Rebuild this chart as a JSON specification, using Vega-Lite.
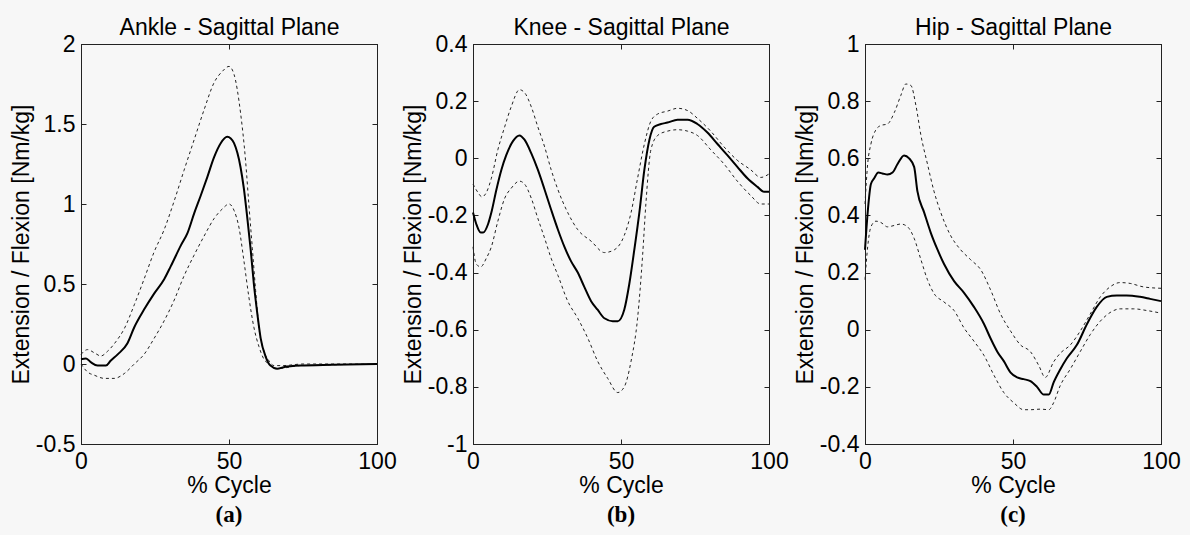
{
  "$schema": "https://vega.github.io/schema/vega-lite/v6.json",
  "background": "#f7f7f7",
  "autosize": {"type": "none"},
  "padding": {"left": 81, "top": 44, "right": 1109, "bottom": 491},
  "bounds": "flush",
  "spacing": 96,
  "datasets": {
    "ankle": [
      {"s":"mean","x":0,"y":0.03},{"s":"mean","x":1.7,"y":0.035},{"s":"mean","x":3.4,"y":0.01},{"s":"mean","x":5.6,"y":-0.01},{"s":"mean","x":8.4,"y":-0.01},{"s":"mean","x":10,"y":0.02},{"s":"mean","x":12.4,"y":0.06},{"s":"mean","x":15.7,"y":0.13},{"s":"mean","x":18,"y":0.23},{"s":"mean","x":21.3,"y":0.34},{"s":"mean","x":24.7,"y":0.44},{"s":"mean","x":28.1,"y":0.53},{"s":"mean","x":30.3,"y":0.61},{"s":"mean","x":33.7,"y":0.74},{"s":"mean","x":36,"y":0.82},{"s":"mean","x":38.2,"y":0.94},{"s":"mean","x":40.4,"y":1.05},{"s":"mean","x":42.7,"y":1.17},{"s":"mean","x":44.9,"y":1.29},{"s":"mean","x":47.2,"y":1.38},{"s":"mean","x":49.4,"y":1.42},{"s":"mean","x":50.6,"y":1.41},{"s":"mean","x":51.7,"y":1.38},{"s":"mean","x":53.9,"y":1.23},{"s":"mean","x":55,"y":1.1},{"s":"mean","x":56.2,"y":0.91},{"s":"mean","x":57.3,"y":0.72},{"s":"mean","x":58.4,"y":0.5},{"s":"mean","x":59.6,"y":0.31},{"s":"mean","x":60.7,"y":0.16},{"s":"mean","x":62.4,"y":0.045},{"s":"mean","x":64,"y":-0.01},{"s":"mean","x":66.3,"y":-0.03},{"s":"mean","x":68.5,"y":-0.02},{"s":"mean","x":74,"y":-0.01},{"s":"mean","x":85,"y":-0.005},{"s":"mean","x":100,"y":0},
      {"s":"upper","x":0,"y":0.06},{"s":"upper","x":2.2,"y":0.09},{"s":"upper","x":4.5,"y":0.07},{"s":"upper","x":6.7,"y":0.05},{"s":"upper","x":9,"y":0.08},{"s":"upper","x":11.8,"y":0.14},{"s":"upper","x":14.6,"y":0.22},{"s":"upper","x":18,"y":0.37},{"s":"upper","x":21.3,"y":0.53},{"s":"upper","x":24.7,"y":0.7},{"s":"upper","x":28.1,"y":0.84},{"s":"upper","x":31.5,"y":1.02},{"s":"upper","x":34.8,"y":1.21},{"s":"upper","x":38.2,"y":1.4},{"s":"upper","x":41.6,"y":1.59},{"s":"upper","x":45,"y":1.76},{"s":"upper","x":47.8,"y":1.83},{"s":"upper","x":50,"y":1.86},{"s":"upper","x":51.7,"y":1.81},{"s":"upper","x":53.9,"y":1.57},{"s":"upper","x":55.6,"y":1.27},{"s":"upper","x":56.7,"y":1.0},{"s":"upper","x":57.9,"y":0.72},{"s":"upper","x":59,"y":0.46},{"s":"upper","x":60.1,"y":0.23},{"s":"upper","x":61.8,"y":0.08},{"s":"upper","x":63.5,"y":0.02},{"s":"upper","x":65.2,"y":-0.01},{"s":"upper","x":68,"y":-0.01},{"s":"upper","x":75,"y":0},{"s":"upper","x":85,"y":0},{"s":"upper","x":100,"y":0},
      {"s":"lower","x":0,"y":0},{"s":"lower","x":2.2,"y":-0.05},{"s":"lower","x":4.5,"y":-0.07},{"s":"lower","x":7.9,"y":-0.09},{"s":"lower","x":11.2,"y":-0.09},{"s":"lower","x":14.6,"y":-0.06},{"s":"lower","x":18,"y":0},{"s":"lower","x":21.3,"y":0.06},{"s":"lower","x":24.7,"y":0.16},{"s":"lower","x":28.1,"y":0.27},{"s":"lower","x":31.5,"y":0.4},{"s":"lower","x":34.8,"y":0.55},{"s":"lower","x":38.2,"y":0.68},{"s":"lower","x":41.6,"y":0.8},{"s":"lower","x":45,"y":0.91},{"s":"lower","x":47.8,"y":0.97},{"s":"lower","x":50,"y":1.0},{"s":"lower","x":51.7,"y":0.96},{"s":"lower","x":53.4,"y":0.85},{"s":"lower","x":55,"y":0.65},{"s":"lower","x":56.7,"y":0.42},{"s":"lower","x":58.4,"y":0.23},{"s":"lower","x":60.1,"y":0.11},{"s":"lower","x":61.8,"y":0.03},{"s":"lower","x":63.5,"y":0},{"s":"lower","x":65.7,"y":-0.03},{"s":"lower","x":68.5,"y":-0.025},{"s":"lower","x":74,"y":-0.01},{"s":"lower","x":85,"y":-0.005},{"s":"lower","x":100,"y":0}
    ],
    "knee": [
      {"s":"mean","x":0,"y":-0.19},{"s":"mean","x":1.1,"y":-0.23},{"s":"mean","x":2.6,"y":-0.26},{"s":"mean","x":3.4,"y":-0.26},{"s":"mean","x":5.1,"y":-0.23},{"s":"mean","x":6.2,"y":-0.19},{"s":"mean","x":7.9,"y":-0.11},{"s":"mean","x":9.6,"y":-0.04},{"s":"mean","x":11.2,"y":0.01},{"s":"mean","x":13.5,"y":0.06},{"s":"mean","x":15.7,"y":0.08},{"s":"mean","x":17.4,"y":0.065},{"s":"mean","x":19.7,"y":0.017},{"s":"mean","x":21.9,"y":-0.04},{"s":"mean","x":24.2,"y":-0.11},{"s":"mean","x":26.4,"y":-0.18},{"s":"mean","x":28.7,"y":-0.25},{"s":"mean","x":30.9,"y":-0.31},{"s":"mean","x":33.1,"y":-0.36},{"s":"mean","x":35.4,"y":-0.4},{"s":"mean","x":37.6,"y":-0.45},{"s":"mean","x":39.9,"y":-0.5},{"s":"mean","x":42.1,"y":-0.53},{"s":"mean","x":44.4,"y":-0.56},{"s":"mean","x":47.2,"y":-0.57},{"s":"mean","x":48.9,"y":-0.57},{"s":"mean","x":51.1,"y":-0.53},{"s":"mean","x":52.8,"y":-0.44},{"s":"mean","x":54.5,"y":-0.32},{"s":"mean","x":56.2,"y":-0.19},{"s":"mean","x":57.9,"y":-0.04},{"s":"mean","x":59.6,"y":0.065},{"s":"mean","x":61.2,"y":0.11},{"s":"mean","x":63.5,"y":0.12},{"s":"mean","x":65.7,"y":0.125},{"s":"mean","x":69.1,"y":0.135},{"s":"mean","x":72.5,"y":0.135},{"s":"mean","x":75.8,"y":0.12},{"s":"mean","x":79.2,"y":0.09},{"s":"mean","x":82.6,"y":0.05},{"s":"mean","x":86,"y":0.01},{"s":"mean","x":89.3,"y":-0.03},{"s":"mean","x":92.7,"y":-0.07},{"s":"mean","x":96.1,"y":-0.1},{"s":"mean","x":98.3,"y":-0.117},{"s":"mean","x":100,"y":-0.117},
      {"s":"upper","x":0,"y":-0.09},{"s":"upper","x":1.7,"y":-0.12},{"s":"upper","x":3,"y":-0.135},{"s":"upper","x":4.5,"y":-0.12},{"s":"upper","x":6.2,"y":-0.07},{"s":"upper","x":8.4,"y":0.03},{"s":"upper","x":10.7,"y":0.11},{"s":"upper","x":12.9,"y":0.18},{"s":"upper","x":15.7,"y":0.24},{"s":"upper","x":17.4,"y":0.23},{"s":"upper","x":19.7,"y":0.18},{"s":"upper","x":21.9,"y":0.11},{"s":"upper","x":24.2,"y":0.04},{"s":"upper","x":26.4,"y":-0.04},{"s":"upper","x":28.7,"y":-0.11},{"s":"upper","x":32,"y":-0.19},{"s":"upper","x":35.4,"y":-0.25},{"s":"upper","x":39.9,"y":-0.29},{"s":"upper","x":44.4,"y":-0.33},{"s":"upper","x":47.8,"y":-0.32},{"s":"upper","x":51.1,"y":-0.27},{"s":"upper","x":53.4,"y":-0.19},{"s":"upper","x":55.6,"y":-0.07},{"s":"upper","x":57.9,"y":0.05},{"s":"upper","x":60.1,"y":0.13},{"s":"upper","x":62.4,"y":0.155},{"s":"upper","x":65.7,"y":0.165},{"s":"upper","x":69.1,"y":0.175},{"s":"upper","x":72.5,"y":0.167},{"s":"upper","x":75.8,"y":0.14},{"s":"upper","x":80.3,"y":0.095},{"s":"upper","x":84.8,"y":0.04},{"s":"upper","x":89.3,"y":-0.007},{"s":"upper","x":93.8,"y":-0.04},{"s":"upper","x":97.2,"y":-0.067},{"s":"upper","x":100,"y":-0.055},
      {"s":"lower","x":0,"y":-0.31},{"s":"lower","x":1.1,"y":-0.37},{"s":"lower","x":2.6,"y":-0.38},{"s":"lower","x":4.5,"y":-0.35},{"s":"lower","x":6.2,"y":-0.31},{"s":"lower","x":8.4,"y":-0.22},{"s":"lower","x":10.7,"y":-0.14},{"s":"lower","x":12.9,"y":-0.105},{"s":"lower","x":15.7,"y":-0.08},{"s":"lower","x":17.4,"y":-0.09},{"s":"lower","x":19.7,"y":-0.14},{"s":"lower","x":21.9,"y":-0.21},{"s":"lower","x":24.2,"y":-0.28},{"s":"lower","x":26.4,"y":-0.35},{"s":"lower","x":28.7,"y":-0.41},{"s":"lower","x":32,"y":-0.5},{"s":"lower","x":35.4,"y":-0.56},{"s":"lower","x":38.8,"y":-0.63},{"s":"lower","x":42.1,"y":-0.71},{"s":"lower","x":45.5,"y":-0.77},{"s":"lower","x":48.9,"y":-0.82},{"s":"lower","x":51.1,"y":-0.8},{"s":"lower","x":53.4,"y":-0.71},{"s":"lower","x":55.6,"y":-0.56},{"s":"lower","x":57.3,"y":-0.34},{"s":"lower","x":58.4,"y":-0.16},{"s":"lower","x":60.1,"y":0.03},{"s":"lower","x":62.4,"y":0.08},{"s":"lower","x":65.7,"y":0.095},{"s":"lower","x":69.1,"y":0.1},{"s":"lower","x":72.5,"y":0.095},{"s":"lower","x":75.8,"y":0.08},{"s":"lower","x":80.3,"y":0.03},{"s":"lower","x":84.8,"y":-0.02},{"s":"lower","x":89.3,"y":-0.08},{"s":"lower","x":93.8,"y":-0.13},{"s":"lower","x":97.2,"y":-0.16},{"s":"lower","x":100,"y":-0.16}
    ],
    "hip": [
      {"s":"mean","x":0,"y":0.28},{"s":"mean","x":0.9,"y":0.41},{"s":"mean","x":2,"y":0.51},{"s":"mean","x":3.1,"y":0.53},{"s":"mean","x":4.5,"y":0.55},{"s":"mean","x":5.9,"y":0.547},{"s":"mean","x":7.6,"y":0.543},{"s":"mean","x":9.3,"y":0.55},{"s":"mean","x":11,"y":0.58},{"s":"mean","x":13.2,"y":0.61},{"s":"mean","x":14.9,"y":0.6},{"s":"mean","x":16.6,"y":0.57},{"s":"mean","x":17.7,"y":0.485},{"s":"mean","x":20,"y":0.41},{"s":"mean","x":22.2,"y":0.34},{"s":"mean","x":24.5,"y":0.28},{"s":"mean","x":26.7,"y":0.23},{"s":"mean","x":30.1,"y":0.17},{"s":"mean","x":33.4,"y":0.13},{"s":"mean","x":36.8,"y":0.08},{"s":"mean","x":40.2,"y":0.02},{"s":"mean","x":42.4,"y":-0.03},{"s":"mean","x":44.7,"y":-0.077},{"s":"mean","x":46.9,"y":-0.11},{"s":"mean","x":49.2,"y":-0.15},{"s":"mean","x":51.4,"y":-0.167},{"s":"mean","x":53.6,"y":-0.173},{"s":"mean","x":55.9,"y":-0.18},{"s":"mean","x":58.1,"y":-0.2},{"s":"mean","x":60.4,"y":-0.227},{"s":"mean","x":62.1,"y":-0.227},{"s":"mean","x":63.7,"y":-0.185},{"s":"mean","x":65.9,"y":-0.14},{"s":"mean","x":68.2,"y":-0.1},{"s":"mean","x":71.6,"y":-0.053},{"s":"mean","x":75,"y":0.02},{"s":"mean","x":78.3,"y":0.08},{"s":"mean","x":81.7,"y":0.115},{"s":"mean","x":85.1,"y":0.12},{"s":"mean","x":88.4,"y":0.12},{"s":"mean","x":92.9,"y":0.115},{"s":"mean","x":96.3,"y":0.108},{"s":"mean","x":100,"y":0.1},
      {"s":"upper","x":0,"y":0.44},{"s":"upper","x":0.9,"y":0.58},{"s":"upper","x":2,"y":0.65},{"s":"upper","x":3.7,"y":0.7},{"s":"upper","x":5.4,"y":0.715},{"s":"upper","x":7.6,"y":0.72},{"s":"upper","x":9.9,"y":0.76},{"s":"upper","x":12.1,"y":0.82},{"s":"upper","x":13.8,"y":0.86},{"s":"upper","x":15.5,"y":0.855},{"s":"upper","x":17.2,"y":0.785},{"s":"upper","x":18.9,"y":0.68},{"s":"upper","x":21.1,"y":0.58},{"s":"upper","x":23.3,"y":0.485},{"s":"upper","x":25.6,"y":0.41},{"s":"upper","x":28.9,"y":0.33},{"s":"upper","x":32.3,"y":0.28},{"s":"upper","x":35.7,"y":0.245},{"s":"upper","x":39.1,"y":0.21},{"s":"upper","x":42.4,"y":0.14},{"s":"upper","x":45.8,"y":0.055},{"s":"upper","x":49.2,"y":-0.005},{"s":"upper","x":52.5,"y":-0.053},{"s":"upper","x":55.9,"y":-0.077},{"s":"upper","x":58.7,"y":-0.125},{"s":"upper","x":60.9,"y":-0.167},{"s":"upper","x":63.7,"y":-0.113},{"s":"upper","x":65.9,"y":-0.083},{"s":"upper","x":69.4,"y":-0.053},{"s":"upper","x":72.7,"y":-0.005},{"s":"upper","x":76.1,"y":0.055},{"s":"upper","x":79.5,"y":0.115},{"s":"upper","x":82.8,"y":0.15},{"s":"upper","x":86.2,"y":0.165},{"s":"upper","x":89.6,"y":0.162},{"s":"upper","x":94,"y":0.15},{"s":"upper","x":100,"y":0.145},
      {"s":"lower","x":0,"y":0.175},{"s":"lower","x":0.9,"y":0.29},{"s":"lower","x":2,"y":0.36},{"s":"lower","x":3.7,"y":0.38},{"s":"lower","x":5.4,"y":0.375},{"s":"lower","x":7.6,"y":0.36},{"s":"lower","x":9.9,"y":0.365},{"s":"lower","x":12.1,"y":0.37},{"s":"lower","x":14.4,"y":0.36},{"s":"lower","x":16.6,"y":0.32},{"s":"lower","x":18.9,"y":0.245},{"s":"lower","x":21.1,"y":0.175},{"s":"lower","x":23.3,"y":0.127},{"s":"lower","x":26.7,"y":0.097},{"s":"lower","x":30.1,"y":0.067},{"s":"lower","x":33.4,"y":0.007},{"s":"lower","x":36.8,"y":-0.04},{"s":"lower","x":40.2,"y":-0.09},{"s":"lower","x":43.6,"y":-0.16},{"s":"lower","x":46.9,"y":-0.22},{"s":"lower","x":50.3,"y":-0.256},{"s":"lower","x":53.6,"y":-0.28},{"s":"lower","x":55.9,"y":-0.28},{"s":"lower","x":59.3,"y":-0.278},{"s":"lower","x":62.1,"y":-0.28},{"s":"lower","x":63.7,"y":-0.256},{"s":"lower","x":65.9,"y":-0.197},{"s":"lower","x":69.4,"y":-0.137},{"s":"lower","x":72.7,"y":-0.077},{"s":"lower","x":76.1,"y":-0.017},{"s":"lower","x":79.5,"y":0.03},{"s":"lower","x":82.8,"y":0.06},{"s":"lower","x":86.2,"y":0.073},{"s":"lower","x":90.8,"y":0.073},{"s":"lower","x":95.3,"y":0.067},{"s":"lower","x":100,"y":0.058}
    ]
  },
  "hconcat": [
    {
      "width": 296, "height": 400,
      "data": {"name": "ankle"},
      "title": {"text": "(a)"},
      "layer": [
        {
          "transform": [{"filter": "datum.s != 'mean'"}],
          "mark": {"type": "line", "interpolate": "monotone", "strokeDash": [3, 3], "strokeWidth": 1, "color": "#222222"},
          "encoding": {
            "x": {"field": "x", "type": "quantitative", "scale": {"domain": [0, 100], "nice": false, "zero": false}, "axis": {"orient": "top", "values": [0, 50, 100], "labels": false, "title": "Ankle - Sagittal Plane"}},
            "y": {"field": "y", "type": "quantitative", "scale": {"domain": [-0.5, 2], "nice": false, "zero": false}, "axis": {"orient": "right", "values": [-0.5, 0, 0.5, 1, 1.5, 2], "labels": false, "title": null}},
            "detail": {"field": "s"}
          }
        },
        {
          "transform": [{"filter": "datum.s == 'mean'"}],
          "mark": {"type": "line", "interpolate": "monotone", "strokeWidth": 2, "color": "#000000"},
          "encoding": {
            "x": {"field": "x", "type": "quantitative", "scale": {"domain": [0, 100], "nice": false, "zero": false}, "axis": {"orient": "bottom", "values": [0, 50, 100], "format": "~r", "labelExpr": "replace(datum.label, '\u2212', '-')", "title": "% Cycle"}},
            "y": {"field": "y", "type": "quantitative", "scale": {"domain": [-0.5, 2], "nice": false, "zero": false}, "axis": {"orient": "left", "values": [-0.5, 0, 0.5, 1, 1.5, 2], "format": "~r", "labelExpr": "replace(datum.label, '\u2212', '-')", "title": "Extension / Flexion [Nm/kg]"}}
          }
        }
      ],
      "resolve": {"axis": {"x": "independent", "y": "independent"}}
    },
    {
      "width": 296, "height": 400,
      "data": {"name": "knee"},
      "title": {"text": "(b)"},
      "layer": [
        {
          "transform": [{"filter": "datum.s != 'mean'"}],
          "mark": {"type": "line", "interpolate": "monotone", "strokeDash": [3, 3], "strokeWidth": 1, "color": "#222222"},
          "encoding": {
            "x": {"field": "x", "type": "quantitative", "scale": {"domain": [0, 100], "nice": false, "zero": false}, "axis": {"orient": "top", "values": [0, 50, 100], "labels": false, "title": "Knee - Sagittal Plane"}},
            "y": {"field": "y", "type": "quantitative", "scale": {"domain": [-1, 0.4], "nice": false, "zero": false}, "axis": {"orient": "right", "values": [-1, -0.8, -0.6, -0.4, -0.2, 0, 0.2, 0.4], "labels": false, "title": null}},
            "detail": {"field": "s"}
          }
        },
        {
          "transform": [{"filter": "datum.s == 'mean'"}],
          "mark": {"type": "line", "interpolate": "monotone", "strokeWidth": 2, "color": "#000000"},
          "encoding": {
            "x": {"field": "x", "type": "quantitative", "scale": {"domain": [0, 100], "nice": false, "zero": false}, "axis": {"orient": "bottom", "values": [0, 50, 100], "format": "~r", "labelExpr": "replace(datum.label, '\u2212', '-')", "title": "% Cycle"}},
            "y": {"field": "y", "type": "quantitative", "scale": {"domain": [-1, 0.4], "nice": false, "zero": false}, "axis": {"orient": "left", "values": [-1, -0.8, -0.6, -0.4, -0.2, 0, 0.2, 0.4], "format": "~r", "labelExpr": "replace(datum.label, '\u2212', '-')", "title": "Extension / Flexion [Nm/kg]"}}
          }
        }
      ],
      "resolve": {"axis": {"x": "independent", "y": "independent"}}
    },
    {
      "width": 296, "height": 400,
      "data": {"name": "hip"},
      "title": {"text": "(c)"},
      "layer": [
        {
          "transform": [{"filter": "datum.s != 'mean'"}],
          "mark": {"type": "line", "interpolate": "monotone", "strokeDash": [3, 3], "strokeWidth": 1, "color": "#222222"},
          "encoding": {
            "x": {"field": "x", "type": "quantitative", "scale": {"domain": [0, 100], "nice": false, "zero": false}, "axis": {"orient": "top", "values": [0, 50, 100], "labels": false, "title": "Hip - Sagittal Plane"}},
            "y": {"field": "y", "type": "quantitative", "scale": {"domain": [-0.4, 1], "nice": false, "zero": false}, "axis": {"orient": "right", "values": [-0.4, -0.2, 0, 0.2, 0.4, 0.6, 0.8, 1], "labels": false, "title": null}},
            "detail": {"field": "s"}
          }
        },
        {
          "transform": [{"filter": "datum.s == 'mean'"}],
          "mark": {"type": "line", "interpolate": "monotone", "strokeWidth": 2, "color": "#000000"},
          "encoding": {
            "x": {"field": "x", "type": "quantitative", "scale": {"domain": [0, 100], "nice": false, "zero": false}, "axis": {"orient": "bottom", "values": [0, 50, 100], "format": "~r", "labelExpr": "replace(datum.label, '\u2212', '-')", "title": "% Cycle"}},
            "y": {"field": "y", "type": "quantitative", "scale": {"domain": [-0.4, 1], "nice": false, "zero": false}, "axis": {"orient": "left", "values": [-0.4, -0.2, 0, 0.2, 0.4, 0.6, 0.8, 1], "format": "~r", "labelExpr": "replace(datum.label, '\u2212', '-')", "title": "Extension / Flexion [Nm/kg]"}}
          }
        }
      ],
      "resolve": {"axis": {"x": "independent", "y": "independent"}}
    }
  ],
  "config": {
    "font": "Liberation Sans",
    "view": {"stroke": "#222222", "strokeWidth": 1},
    "axis": {
      "grid": false,
      "domainColor": "#222222",
      "tickColor": "#222222",
      "tickSize": -5,
      "labelFont": "Liberation Sans",
      "labelFontSize": 23,
      "labelColor": "#000000",
      "labelFlush": false,
      "labelOverlap": false,
      "labelBound": false,
      "titleFont": "Liberation Sans",
      "titleFontSize": 23,
      "titleFontWeight": "normal",
      "titleColor": "#000000"
    },
    "axisLeft": {"labelPadding": 11, "titlePadding": 2},
    "axisBottom": {"labelPadding": 11, "titlePadding": 1},
    "axisTop": {"titlePadding": 4},
    "title": {"font": "Liberation Serif", "fontWeight": "bold", "fontSize": 23, "orient": "bottom", "anchor": "middle", "offset": 7, "color": "#000000"}
  }
}
